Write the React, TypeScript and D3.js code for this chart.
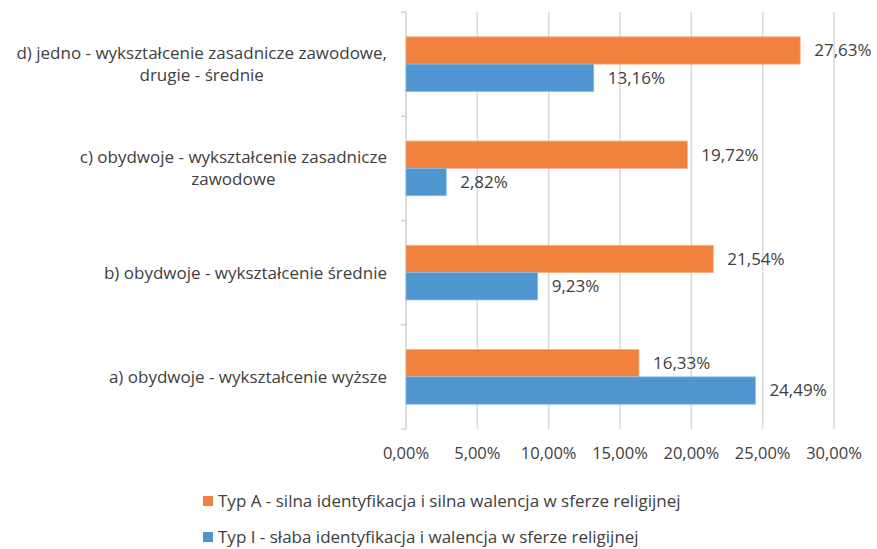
import React, { useRef, useEffect } from 'react';
import * as d3 from 'd3';

// categories listed top to bottom, "\n" marks a line break in the label
const categories = [
  'd) jedno - wykształcenie zasadnicze zawodowe,\ndrugie - średnie',
  'c) obydwoje - wykształcenie zasadnicze\nzawodowe',
  'b) obydwoje - wykształcenie średnie',
  'a) obydwoje - wykształcenie wyższe',
];
const seriesNames = [
  'Typ A - silna identyfikacja i silna walencja w sferze religijnej',
  'Typ I - słaba identyfikacja i walencja w sferze religijnej',
];
const typA = [27.63, 19.72, 21.54, 16.33];
const typI = [13.16, 2.82, 9.23, 24.49];
const xTicks = [0, 5, 10, 15, 20, 25, 30];
const colors = ['#F0823D', '#4F96D1'];

const fmt = (v: number) => v.toFixed(2).replace('.', ',') + '%';

function App() {
  const svgRef = useRef<SVGSVGElement>(null);

  useEffect(() => {
    const svg = d3.select(svgRef.current);
    svg.selectAll('*').remove();

    const font = "'Open Sans', sans-serif";
    const fs = '17px';
    const textColor = '#404040';
    const left = 406, right = 834, top = 12, bottom = 429;

    const x = d3.scaleLinear().domain([0, 30]).range([left, right]);
    const y0 = d3.scaleBand().domain(categories).range([top, bottom]);
    const y1 = d3.scaleBand()
      .domain(seriesNames)
      .range([0, y0.bandwidth()])
      .paddingInner(0)
      .paddingOuter(0.907);

    // gridlines
    svg.append('g')
      .selectAll('line')
      .data(xTicks.slice(1))
      .enter()
      .append('line')
      .attr('x1', d => x(d))
      .attr('x2', d => x(d))
      .attr('y1', top)
      .attr('y2', bottom)
      .attr('stroke', '#d9d9d9')
      .attr('stroke-width', 1.5);

    // category axis
    const axis = svg.append('g').attr('transform', `translate(${left},0)`);
    axis.append('line')
      .attr('x1', 0).attr('x2', 0)
      .attr('y1', top).attr('y2', bottom)
      .attr('stroke', '#d0d0d0').attr('stroke-width', 1.5);
    const tickYs = [top, ...categories.map(c => (y0(c) as number) + y0.step())];
    axis.selectAll('.tick')
      .data(tickYs)
      .enter()
      .append('line')
      .attr('x1', -5).attr('x2', 0)
      .attr('y1', d => d).attr('y2', d => d)
      .attr('stroke', '#d0d0d0').attr('stroke-width', 1.5);

    // category labels
    categories.forEach(c => {
      const lines = c.split('\n');
      const cy = (y0(c) as number) + y0.bandwidth() / 2;
      const lh = 22;
      const g = svg.append('g');
      const texts = lines.map((ln, i) =>
        g.append('text')
          .attr('y', cy + (i - (lines.length - 1) / 2) * lh)
          .attr('dy', '0.35em')
          .attr('text-anchor', 'middle')
          .style('font-family', font)
          .style('font-size', fs)
          .attr('fill', textColor)
          .text(ln)
      );
      const widths = texts.map(t => (t.node() as SVGTextElement).getComputedTextLength());
      const maxW = Math.max(...widths);
      const center = 387 - maxW / 2;
      texts.forEach(t => t.attr('x', center));
    });

    // bars
    const values = [typA, typI];
    seriesNames.forEach((s, si) => {
      const g = svg.append('g');
      g.selectAll('rect')
        .data(categories)
        .enter()
        .append('rect')
        .attr('x', x(0))
        .attr('y', (c) => (y0(c) as number) + (y1(s) as number))
        .attr('width', (c, i) => x(values[si][i]) - x(0))
        .attr('height', y1.bandwidth())
        .attr('fill', colors[si])
        .attr('stroke', si === 0 ? '#f6b088' : '#8cbbe3')
        .attr('stroke-width', 0.8);
      g.selectAll('text')
        .data(categories)
        .enter()
        .append('text')
        .attr('x', (c, i) => x(values[si][i]) + 14)
        .attr('y', (c) => (y0(c) as number) + (y1(s) as number) + y1.bandwidth() / 2)
        .attr('dy', '0.35em')
        .style('font-family', font)
        .style('font-size', fs)
        .attr('fill', textColor)
        .text((c, i) => fmt(values[si][i]));
    });

    // x tick labels
    svg.append('g')
      .selectAll('text')
      .data(xTicks)
      .enter()
      .append('text')
      .attr('x', d => x(d))
      .attr('y', 453)
      .attr('dy', '0.35em')
      .attr('text-anchor', 'middle')
      .style('font-family', font)
      .style('font-size', '16.5px')
      .attr('fill', textColor)
      .text(d => fmt(d));

    // legend
    const legend = svg.append('g');
    seriesNames.forEach((s, i) => {
      const ly = 501 + i * 36;
      legend.append('rect')
        .attr('x', 203).attr('y', ly - 5)
        .attr('width', 10).attr('height', 10)
        .attr('fill', colors[i]);
      legend.append('text')
        .attr('x', 218).attr('y', ly)
        .attr('dy', '0.33em')
        .style('font-family', font)
        .style('font-size', fs)
        .attr('fill', textColor)
        .text(s);
    });
  }, []);

  return (
    <svg
      ref={svgRef}
      width={877}
      height={549}
      style={{ position: 'absolute', left: 0, top: 0, background: '#fff' }}
    />
  );
}

export default App;
